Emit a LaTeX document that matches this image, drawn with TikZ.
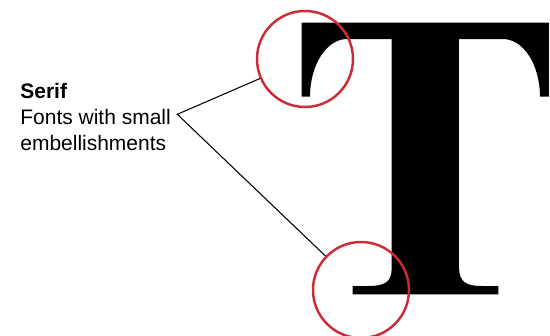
\documentclass[tikz,border=0pt]{standalone}
\usepackage{fontspec}
\newfontfamily\labelfont{Liberation Sans}
\definecolor{markRed}{RGB}{204,44,56}
\definecolor{glyphBlack}{RGB}{0,0,0}

\begin{document}
\begin{tikzpicture}[
  x=0.567pt, y=-0.567pt,
  caption/.style={font=\fontsize{11.9}{14.66}\selectfont\labelfont, align=left, inner sep=0pt},
  ring/.style={circle, draw=markRed, line width=1.4pt, minimum size=96*0.567pt, inner sep=0pt},
  leader/.style={draw=black, line width=0.6pt}
]
\useasboundingbox (0,0) rectangle (550,335);
\clip (0,0) rectangle (550,335);

% The specimen letter.
\fill[glyphBlack]
  (301.7,22.7) -- (549,22.7) -- (549,96.7) -- (540,96.7)
  .. controls (540,64.8) and (523.4,39) .. (503,39)
  -- (459,39) -- (459,268)
  .. controls (459.5,282) and (466,286) .. (482,286)
  -- (498.3,286) -- (498.3,294.3) -- (352.7,294.3) -- (352.7,286)
  -- (368,286)
  .. controls (385,286) and (391.7,282) .. (391.7,268)
  -- (391.7,39) -- (347,39)
  .. controls (326.6,39) and (310,64.8) .. (310,96.7)
  -- (301.7,96.7) -- cycle;

% Highlighted serifs.
\node[ring] (topserif) at (305,59) {};
\node[ring] (footserif) at (361,290) {};

% Caption (base anchor sits on the last line).
\node[caption, anchor=base west] (caption) at (20,150)
  {{\bfseries Serif}\\Fonts with small\\embellishments};

% Leader lines to the circles.
\coordinate (apex) at (177.3,114.3);
\draw[leader] (topserif) -- (apex) -- (footserif);

\end{tikzpicture}
\end{document}
